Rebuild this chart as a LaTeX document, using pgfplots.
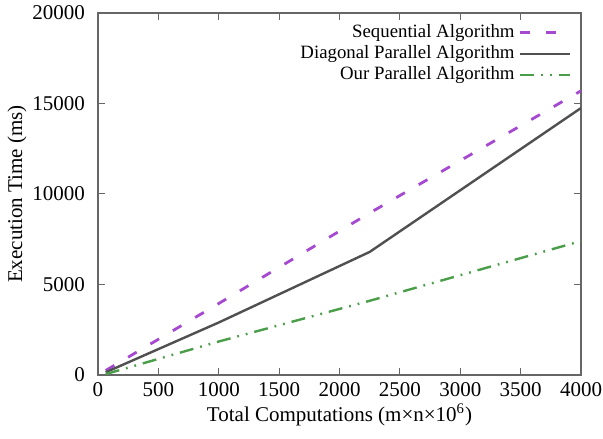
\documentclass[border=0pt]{standalone}
\usepackage{fontspec}
\setmainfont{Liberation Serif}
\usepackage{pgfplots}
\pgfplotsset{compat=1.18}
\definecolor{seqpurple}{HTML}{A449D0}
\definecolor{diaggray}{HTML}{505050}
\definecolor{ourgreen}{HTML}{4A9E4A}
\definecolor{framegray}{HTML}{666666}

\begin{document}
\begin{tikzpicture}
\begin{axis}[
  scale only axis,
  width=241.5pt, height=181pt,
  xmin=0, xmax=4000, ymin=0, ymax=20000,
  xtick={0,500,...,4000},
  ytick={0,5000,...,20000},
  /pgf/number format/assume math mode=true,
  /pgf/number format/set thousands separator={},
  scaled ticks=false,
  tick label style={font=\fontsize{10.5}{12}\selectfont},
  label style={font=\fontsize{10.5}{12}\selectfont},
  yticklabel style={xshift=-3pt},
  xlabel={Total Computations (m×n×10\textsuperscript{6})},
  ylabel={Execution Time (ms)},
  xlabel style={yshift=3pt},
  ylabel style={yshift=-4pt},
  axis line style={framegray, line width=0.6pt},
  tick style={framegray, line width=0.5pt},
  major tick length=3.5pt,
  legend style={draw=none, fill=none, at={(rel axis cs:0.985,0.985)}, anchor=north east,
    font=\fontsize{9.4}{11}\selectfont, row sep=-1.5pt, inner sep=1pt},
  legend cell align=right,
  legend plot pos=right,
  legend image code/.code={\draw[#1] (0pt,0pt) -- (25pt,0pt);},
]
\addplot[seqpurple, line width=1.4pt, dash pattern=on 5pt off 8pt] coordinates {
  (64,250) (1000,3950) (2250,8950) (4000,15700)
};
\addlegendentry{Sequential Algorithm}
\addplot[diaggray, line width=1.2pt] coordinates {
  (64,150) (1000,2900) (2250,6800) (4000,14750)
};
\addlegendentry{Diagonal Parallel Algorithm}
\addplot[ourgreen, line width=1.2pt, dash pattern=on 7pt off 3.5pt on 0.9pt off 3.5pt on 0.9pt off 3.5pt] coordinates {
  (64,50) (1000,1850) (2250,4100) (4000,7400)
};
\addlegendentry{Our Parallel Algorithm}
\end{axis}
\pgfresetboundingbox
\path (-49pt,-31.5pt) rectangle (252.5pt,187.5pt);
\end{tikzpicture}
\end{document}
